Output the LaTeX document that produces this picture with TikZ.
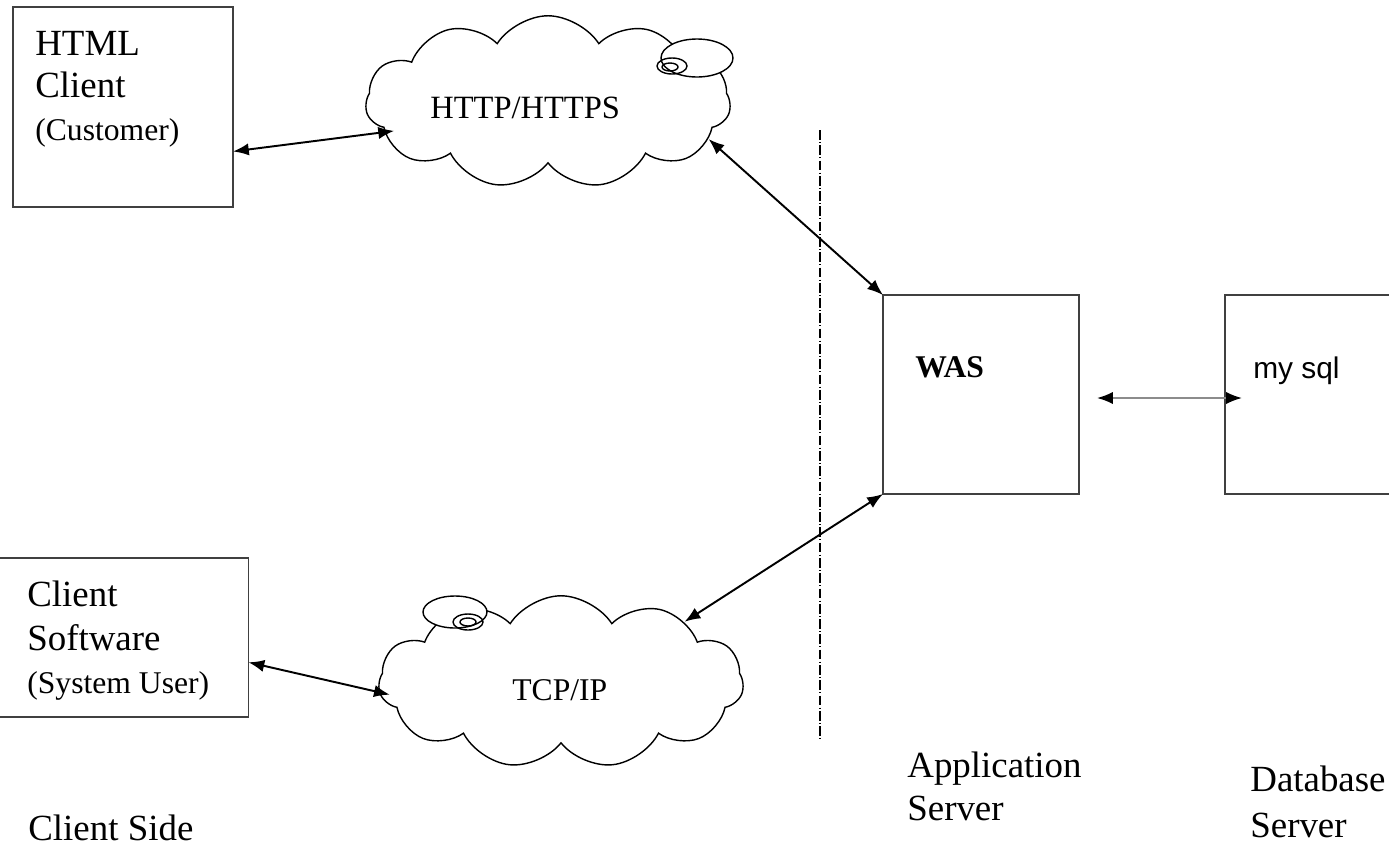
\documentclass[tikz,border=0pt]{standalone}
\usepackage{fontspec}
\setmainfont{Liberation Serif}
\newfontfamily\arialfont{Liberation Sans}
\usepackage{tikz}
\usetikzlibrary{shapes.symbols,arrows.meta,positioning}
\usepackage{xcolor}

\begin{document}
\begin{tikzpicture}[
        x=0.02cm, y=-0.02cm,
        every node/.style={font=\fontsize{21}{24}\selectfont},
        box/.style={draw=black!75, line width=1.1pt, rectangle, inner sep=0pt, outer sep=0pt},
        net/.style={draw, line width=0.8pt, cloud, cloud puffs=11, cloud puff arc=115, aspect=2.1,
            minimum width=7.3cm, minimum height=3.45cm, inner sep=0pt},
        txt/.style={anchor=base west, align=left, inner sep=0pt},
        link/.style={line width=1.1pt, {Latex[length=9pt,width=7pt]}-{Latex[length=9pt,width=7pt]}}
    ]
        \useasboundingbox (0,0) rectangle (1389,846);

        % HTML Client - box top left
        \node[box, minimum width=4.4cm, minimum height=4cm] (html) at (123,107) {};
        \node[txt] (htmltxt) at (35,140) {HTML\\Client\\{\fontsize{18}{22}\selectfont(Customer)}};

        % Client Software - box bottom left, cut at the page edge
        \node[box, minimum width=5.1cm, minimum height=3.18cm] (soft) at (121,637.5) {};
        \node[txt] (softtxt) at (27,693) {Client\\[1pt]Software\\{\fontsize{18}{22}\selectfont(System User)}};

        % WAS - application server box
        \node[box, minimum width=3.92cm, minimum height=3.98cm] (was) at (981,394.5) {};
        \node[txt, font=\fontsize{18}{22}\selectfont\bfseries] (wastxt) at (915,377) {WAS};

        % my sql - database box, cut at the page edge
        \node[box, minimum width=3.6cm, minimum height=3.98cm] (sql) at (1315,394.5) {};
        \node[txt, font=\fontsize{17}{20}\arialfont] (sqltxt) at (1253,378) {my sql};

        % clouds
        \node[net] (http) at (548,102) {};
        \node[net] (tcp) at (561,682) {};
        \node[txt] (httptxt) at (430,118) {\fontsize{18.5}{22}\selectfont HTTP/HTTPS};
        \node[txt] (tcptxt) at (512,700) {\fontsize{18}{22}\selectfont TCP/IP};

        % little swirls on the clouds
        \draw[line width=0.8pt, fill=white] (697,58) ellipse (36 and 19);
        \draw[line width=0.8pt] (672,66) ellipse (15 and 8);
        \draw[line width=0.8pt] (670,67) ellipse (8 and 4);
        \draw[line width=0.8pt, fill=white] (455,612) ellipse (32 and 16);
        \draw[line width=0.8pt] (468,622) ellipse (15 and 8);
        \draw[line width=0.8pt] (468,622) ellipse (8 and 4);

        % connectors
        \draw[link] (html.-22) -- ([xshift=0.2cm]http.190);
        \draw[link] (http.-13) -- (was.north west);
        \draw[link] (was.south west) -- (tcp.26);
        \draw[link] (soft.-11) -- ([xshift=0.2cm]tcp.184);
        \draw[link, draw=black!45, {Latex[length=9pt,width=7pt,black]}-{Latex[length=9pt,width=7pt,black]}]
            ([xshift=0.36cm,yshift=-0.07cm]was.east) -- ([xshift=0.34cm,yshift=-0.07cm]sql.west);

        % client / server border
        \draw[line width=1pt, dash pattern=on 5.5pt off 1.3pt on 0.6pt off 1.3pt] (820,130) -- (820,740);

        % side captions
        \node[txt] (appsrv) at (907,820) {Application\\Server};
        \node[txt] (dbsrv) at (1250,837) {Database\\[2pt]Server};
        \node[txt] (client) at (28,840) {Client Side};
    \end{tikzpicture}
\end{document}
